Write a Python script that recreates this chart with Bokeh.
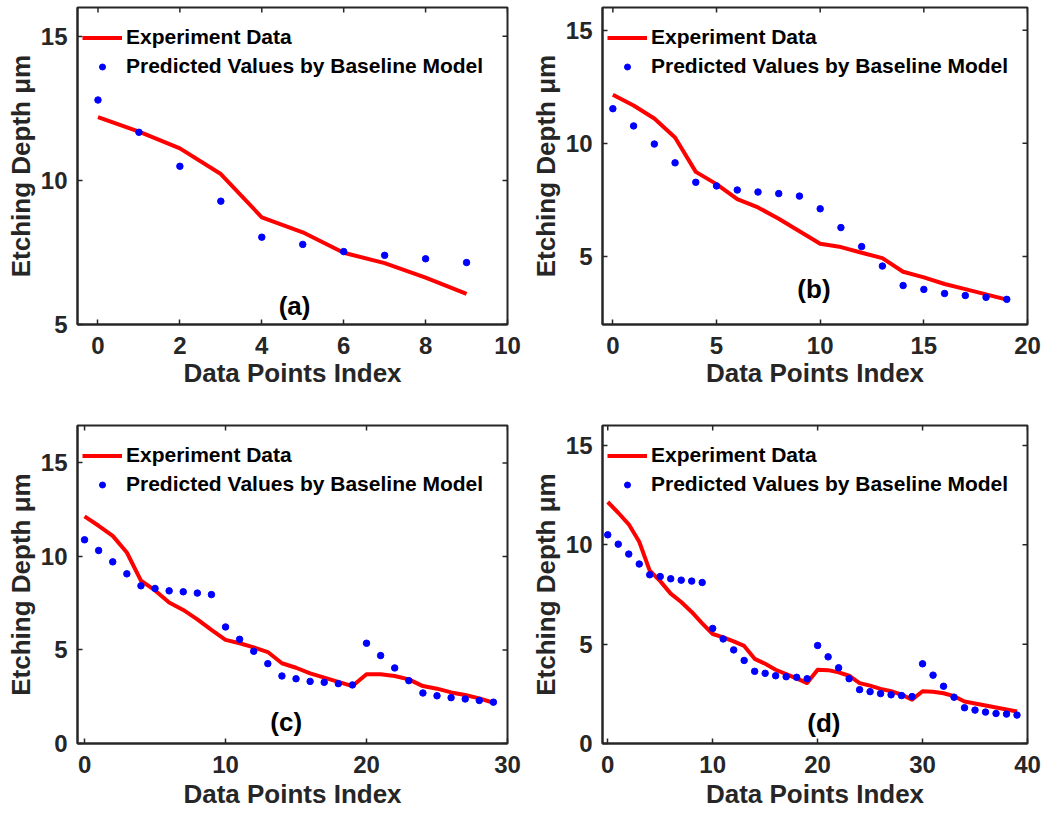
import math
from bokeh.plotting import figure
from bokeh.models import (ColumnDataSource, Legend, LegendItem, Label,
                          FixedTicker, Range1d)
from bokeh.layouts import gridplot
from bokeh.embed import file_html
from bokeh.resources import INLINE

FONT = "Liberation Sans"
AXC = "#262626"

# ---------------- data ----------------
exp_a = [12.2, 11.69, 11.11, 10.22, 8.72, 8.2, 7.49, 7.13, 6.63, 6.06]
pred_a = [12.79, 11.67, 10.49, 9.28, 8.03, 7.78, 7.53, 7.4, 7.28, 7.15]

exp_b = [12.15, 11.67, 11.1, 10.26, 8.74, 8.2, 7.54, 7.17, 6.67, 6.12,
         5.57, 5.42, 5.17, 4.93, 4.33, 4.08, 3.79, 3.56, 3.33, 3.1]
pred_b = [11.53, 10.77, 9.97, 9.14, 8.28, 8.12, 7.94, 7.85, 7.78, 7.67,
          7.11, 6.28, 5.44, 4.58, 3.72, 3.55, 3.37, 3.28, 3.2, 3.11]

exp_c = [12.14, 11.64, 11.1, 10.21, 8.71, 8.18, 7.54, 7.14, 6.64, 6.07,
         5.54, 5.36, 5.14, 4.89, 4.29, 4.05, 3.75, 3.52, 3.29, 3.07,
         3.7, 3.7, 3.61, 3.43, 3.07, 2.93, 2.73, 2.59, 2.41, 2.18]
pred_c = [10.89, 10.32, 9.71, 9.07, 8.43, 8.29, 8.16, 8.11, 8.04, 7.96,
          6.23, 5.57, 4.93, 4.27, 3.61, 3.46, 3.32, 3.27, 3.2, 3.13,
          5.36, 4.7, 4.04, 3.36, 2.7, 2.55, 2.45, 2.38, 2.3, 2.21]

exp_d = [12.15, 11.61, 11.03, 10.15, 8.7, 8.17, 7.54, 7.12, 6.62, 6.04,
         5.51, 5.34, 5.14, 4.91, 4.26, 4.01, 3.71, 3.49, 3.28, 3.04,
         3.71, 3.69, 3.58, 3.41, 3.04, 2.91, 2.75, 2.63, 2.46, 2.21,
         2.63, 2.6, 2.53, 2.38, 2.11, 2.01, 1.91, 1.81, 1.71, 1.61]
pred_d = [10.5, 10.03, 9.53, 9.03, 8.49, 8.4, 8.29, 8.22, 8.17, 8.1,
          5.79, 5.26, 4.71, 4.18, 3.63, 3.53, 3.41, 3.36, 3.33, 3.26,
          4.93, 4.36, 3.81, 3.26, 2.71, 2.61, 2.51, 2.45, 2.41, 2.36,
          4.01, 3.44, 2.88, 2.33, 1.8, 1.68, 1.58, 1.51, 1.48, 1.43]

xticks_a = [0, 2, 4, 6, 8, 10]
xticks_b = [0, 5, 10, 15, 20]
xticks_c = [0, 10, 20, 30]
xticks_d = [0, 10, 20, 30, 40]
yticks_a = [5, 10, 15]
yticks_b = [5, 10, 15]
yticks_c = [0, 5, 10, 15]
yticks_d = [0, 5, 10, 15]

legend_labels = ["Experiment Data", "Predicted Values by Baseline Model"]
x_label = "Data Points Index"
y_label = "Etching Depth \u03bcm"


def style_axis(ax):
    ax.axis_line_color = AXC
    ax.axis_line_width = 2
    ax.major_tick_line_color = AXC
    ax.major_tick_line_width = 1.5
    ax.major_tick_in = 5
    ax.major_tick_out = 0
    ax.minor_tick_line_color = None
    ax.major_label_text_font = FONT
    ax.major_label_text_font_style = "bold"
    ax.major_label_text_font_size = "24px"
    ax.major_label_text_color = AXC
    ax.axis_label_text_font = FONT
    ax.axis_label_text_font_style = "bold"
    ax.axis_label_text_font_size = "26px"
    ax.axis_label_text_color = AXC


def make_panel(exp, pred, xr, yr, xt, yt, tag, tag_xy, fw, fh, borders,
               xlab_stand):
    n = len(exp)
    src = ColumnDataSource(dict(x=list(range(n)), exp=exp, pred=pred))
    bl, br, bt, bb = borders
    p = figure(width=bl + fw + br, height=bt + fh + bb,
               x_range=Range1d(*xr), y_range=Range1d(*yr),
               output_backend="svg", toolbar_location=None,
               min_border_left=bl, min_border_right=br,
               min_border_top=bt, min_border_bottom=bb)
    p.grid.grid_line_color = None
    p.outline_line_color = AXC
    p.outline_line_width = 2
    p.background_fill_color = "white"

    p.xaxis.ticker = FixedTicker(ticks=xt)
    p.yaxis.ticker = FixedTicker(ticks=yt)
    style_axis(p.xaxis[0])
    style_axis(p.yaxis[0])
    p.xaxis.axis_label = x_label
    p.yaxis.axis_label = y_label
    p.xaxis.major_label_standoff = 12
    p.xaxis.axis_label_standoff = xlab_stand
    p.yaxis.major_label_standoff = 10
    p.yaxis.axis_label_standoff = 2

    # mirrored tick marks on the top and right edges (clipped to the frame)
    p.scatter(x=xt, y=[yr[1]] * len(xt), marker="dash", angle=math.pi / 2,
              size=10, line_color=AXC, line_width=1.5)
    p.scatter(x=[xr[1]] * len(yt), y=yt, marker="dash",
              size=10, line_color=AXC, line_width=1.5)

    lr = p.line("x", "exp", source=src, line_color="#FF0000", line_width=4,
                line_join="round")
    sr = p.scatter("x", "pred", source=src, size=6.5, fill_color="#0000FF",
                   line_color="#0000FF")

    legend = Legend(items=[LegendItem(label=legend_labels[0], renderers=[lr]),
                           LegendItem(label=legend_labels[1], renderers=[sr])],
                    location=(0, fh - 78), margin=0, padding=5, spacing=1,
                    glyph_width=40, glyph_height=15, label_height=28,
                    label_standoff=4,
                    label_text_font=FONT, label_text_font_style="bold",
                    label_text_font_size="21px", label_text_color="black",
                    background_fill_alpha=0, border_line_alpha=0)
    p.add_layout(legend)

    p.add_layout(Label(x=tag_xy[0], y=tag_xy[1], text=tag, text_font=FONT,
                       text_font_style="bold", text_font_size="26px",
                       text_color="black", text_align="center",
                       text_baseline="middle"))
    return p


pa = make_panel(exp_a, pred_a, (-0.5, 10), (5, 16), xticks_a, yticks_a,
                "(a)", (4.8, 5.65), 430, 317, (77, 20, 7, 85), 1)
pb = make_panel(exp_b, pred_b, (-0.5, 20), (2, 16), xticks_b, yticks_b,
                "(b)", (9.7, 3.55), 428, 317, (72, 20, 7, 85), 1)
pc = make_panel(exp_c, pred_c, (-0.5, 30), (0, 17), xticks_c, yticks_c,
                "(c)", (14.3, 1.15), 430, 318, (77, 20, 16, 74), 3)
pd = make_panel(exp_d, pred_d, (-0.5, 40), (0, 16), xticks_d, yticks_d,
                "(d)", (20.6, 1.05), 428, 318, (72, 20, 16, 74), 3)

grid = gridplot([[pa, pb], [pc, pd]], toolbar_location=None)
open("out.html", "w").write(file_html(grid, INLINE))
